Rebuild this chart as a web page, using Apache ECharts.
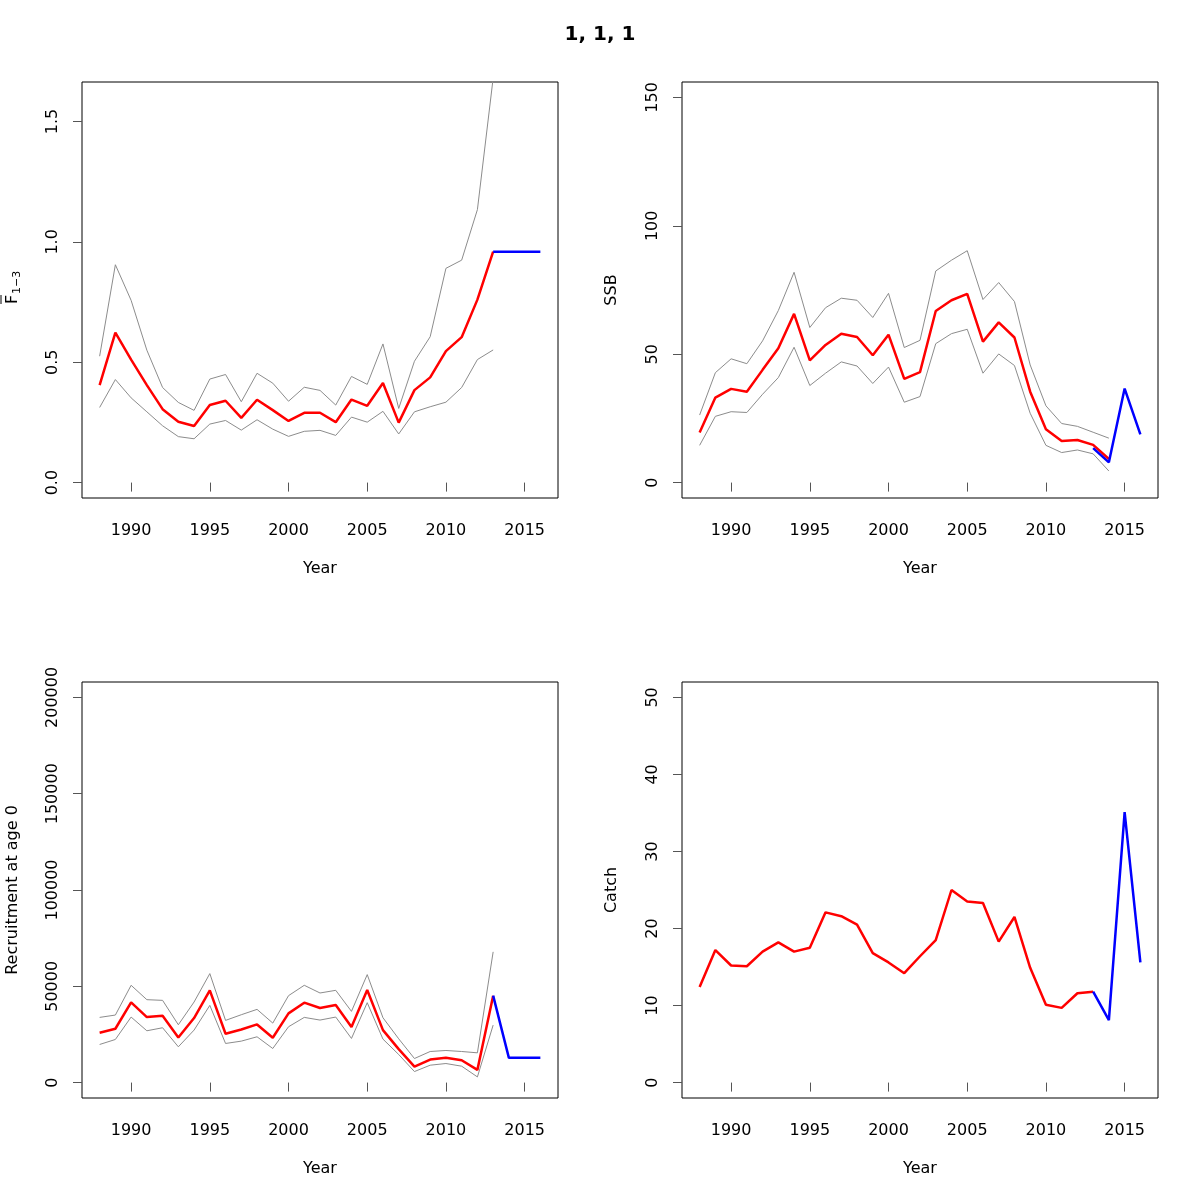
<!DOCTYPE html>
<html>
<head>
<meta charset="utf-8">
<script src="https://cdn.jsdelivr.net/npm/echarts@6/dist/echarts.min.js"></script>
<style>
  html, body { margin: 0; padding: 0; background: #fff; }
  #chart { width: 1200px; height: 1200px; }
</style>
</head>
<body>
<div id="chart"></div>
<script>
// years of the assessment and of the projection
const years = [1988, 1989, 1990, 1991, 1992, 1993, 1994, 1995, 1996, 1997, 1998, 1999, 2000,
  2001, 2002, 2003, 2004, 2005, 2006, 2007, 2008, 2009, 2010, 2011, 2012, 2013];
const ssbYears = [1988, 1989, 1990, 1991, 1992, 1993, 1994, 1995, 1996, 1997, 1998, 1999, 2000,
  2001, 2002, 2003, 2004, 2005, 2006, 2007, 2008, 2009, 2010, 2011, 2012, 2013, 2014];
const projYears = [2013, 2014, 2015, 2016];
const yearTicks = [1990, 1995, 2000, 2005, 2010, 2015];

// mean F ages 1-3
const fbar = [0.405, 0.623, 0.511, 0.405, 0.305, 0.253, 0.235, 0.322, 0.340, 0.269, 0.344, 0.301, 0.256,
  0.290, 0.290, 0.251, 0.345, 0.319, 0.414, 0.249, 0.384, 0.437, 0.546, 0.604, 0.760, 0.959];
const fbarUp = [0.525, 0.905, 0.757, 0.550, 0.395, 0.333, 0.300, 0.430, 0.449, 0.336, 0.454, 0.413, 0.338,
  0.396, 0.383, 0.322, 0.441, 0.408, 0.576, 0.308, 0.504, 0.606, 0.890, 0.924, 1.134, 1.68];
const fbarLo = [0.312, 0.428, 0.352, 0.294, 0.236, 0.191, 0.182, 0.243, 0.258, 0.218, 0.261, 0.222, 0.192,
  0.213, 0.217, 0.196, 0.272, 0.251, 0.296, 0.202, 0.294, 0.315, 0.334, 0.395, 0.511, 0.551];
const fbarProj = [0.959, 0.959, 0.959, 0.959];

// spawning stock biomass
const ssb = [19.5, 33.1, 36.5, 35.4, 43.9, 52.3, 65.7, 47.6, 53.6, 58.0, 56.7, 49.6, 57.6,
  40.4, 43.0, 66.8, 71.0, 73.5, 54.9, 62.4, 56.5, 35.4, 20.8, 16.2, 16.6, 14.7, 9.2];
const ssbUp = [26.3, 42.8, 48.2, 46.3, 55.2, 67.0, 81.9, 60.4, 68.1, 71.8, 71.0, 64.3, 73.7,
  52.6, 55.4, 82.4, 86.6, 90.3, 71.3, 77.9, 70.5, 45.8, 29.9, 23.0, 21.9, 19.6, 17.3];
const ssbLo = [14.5, 25.8, 27.6, 27.3, 34.4, 40.9, 52.7, 37.8, 42.6, 47.0, 45.4, 38.6, 45.0,
  31.3, 33.5, 54.1, 58.0, 59.7, 42.6, 50.1, 45.6, 27.0, 14.5, 11.7, 12.7, 11.2, 4.5];
const ssbProj = [13.4, 7.9, 36.6, 18.8];

// recruitment at age 0
const rec = [25870, 27950, 41670, 34030, 34720, 23440, 33500, 47900, 25350, 27600, 30200, 23260, 35940,
  41490, 38710, 40280, 28820, 48090, 27260, 17360, 8330, 11980, 12850, 11630, 6600, 45140];
const recUp = [33850, 35070, 50520, 43050, 42700, 30030, 41840, 56590, 32290, 35240, 38020, 30900, 45140,
  50520, 46520, 47910, 36980, 56070, 33680, 22740, 12500, 16150, 16670, 16150, 15450, 67880];
const recLo = [19790, 22390, 34030, 26910, 28470, 18580, 27260, 40100, 20310, 21530, 23780, 17710, 28990,
  33850, 32460, 34030, 22920, 41490, 22570, 14580, 5730, 9030, 9900, 8510, 2950, 29860];
const recProj = [45140, 12850, 12850, 12850];

// catch
const catchObs = [12.4, 17.2, 15.2, 15.1, 17.0, 18.2, 17.0, 17.5, 22.1, 21.6, 20.5, 16.8, 15.6,
  14.2, 16.4, 18.5, 25.0, 23.5, 23.3, 18.3, 21.5, 14.9, 10.1, 9.7, 11.6, 11.8];
const catchProj = [11.8, 8.1, 35.1, 15.6];

const FONT = 'DejaVu Sans';

function pairs(xs, ys) {
  return xs.map(function (x, i) { return [x, ys[i]]; });
}

const panels = [
  { left: 82, top: 82, ymin: -0.064, ymax: 1.664, ticks: [0, 0.5, 1, 1.5], fmt: function (v) { return v.toFixed(1); },
    lines: [[years, fbarUp, 'g'], [years, fbarLo, 'g'], [years, fbar, 'r'], [projYears, fbarProj, 'b']] },
  { left: 682, top: 82, ymin: -6, ymax: 156, ticks: [0, 50, 100, 150], fmt: String,
    lines: [[ssbYears, ssbUp, 'g'], [ssbYears, ssbLo, 'g'], [ssbYears, ssb, 'r'], [projYears, ssbProj, 'b']] },
  { left: 82, top: 682, ymin: -8000, ymax: 208000, ticks: [0, 50000, 100000, 150000, 200000], fmt: String,
    lines: [[years, recUp, 'g'], [years, recLo, 'g'], [years, rec, 'r'], [projYears, recProj, 'b']] },
  { left: 682, top: 682, ymin: -2, ymax: 52, ticks: [0, 10, 20, 30, 40, 50], fmt: String,
    lines: [[years, catchObs, 'r'], [projYears, catchProj, 'b']] }
];

const lineStyles = {
  g: { color: '#8c8c8c', width: 1 },
  r: { color: '#ff0000', width: 2.5 },
  b: { color: '#0000ff', width: 2.5 }
};

let grids = [], xAxes = [], yAxes = [], series = [];
panels.forEach(function (p, i) {
  grids.push({ left: p.left, top: p.top, width: 476, height: 416, show: true,
    borderColor: '#000', borderWidth: 1, backgroundColor: 'transparent' });
  xAxes.push({
    gridIndex: i, type: 'value', min: 1986.88, max: 2017.12,
    axisLine: { show: false }, splitLine: { show: false },
    axisTick: { customValues: yearTicks, length: 9, lineStyle: { color: '#555', width: 1 } },
    axisLabel: { customValues: yearTicks, fontSize: 16, color: '#000', fontFamily: FONT, margin: 25,
      formatter: String }
  });
  yAxes.push({
    gridIndex: i, type: 'value', min: p.ymin, max: p.ymax,
    axisLine: { show: false }, splitLine: { show: false },
    axisTick: { customValues: p.ticks, length: 9, lineStyle: { color: '#555', width: 1 } },
    axisLabel: { customValues: p.ticks, fontSize: 16, color: '#000', fontFamily: FONT, margin: 21,
      rotate: 90, formatter: p.fmt }
  });
  p.lines.forEach(function (l) {
    series.push({
      type: 'line', xAxisIndex: i, yAxisIndex: i, data: pairs(l[0], l[1]),
      showSymbol: false, symbol: 'none', silent: true, clip: true,
      lineStyle: lineStyles[l[2]]
    });
  });
});

function label(x, y, text, rot) {
  return { type: 'text', x: x, y: y, rotation: rot || 0,
    style: { text: text, fontSize: 16, fill: '#000', fontFamily: FONT, align: 'center', verticalAlign: 'middle' } };
}

const graphics = [
  label(320, 569, 'Year'), label(920, 569, 'Year'),
  label(320, 1169, 'Year'), label(920, 1169, 'Year'),
  label(612, 290, 'SSB', Math.PI / 2),
  label(13, 890, 'Recruitment at age 0', Math.PI / 2),
  label(612, 890, 'Catch', Math.PI / 2),
  {
    type: 'group', x: 13, y: 290, rotation: Math.PI / 2,
    children: [
      { type: 'text', x: -14, y: 0,
        style: { text: 'F', fontSize: 16, fill: '#000', fontFamily: FONT, align: 'left', verticalAlign: 'middle' } },
      { type: 'text', x: -4, y: 4,
        style: { text: '1\u22123', fontSize: 11, fill: '#000', fontFamily: FONT, align: 'left', verticalAlign: 'middle' } },
      { type: 'line', shape: { x1: -14, y1: -12, x2: -5, y2: -12 }, style: { stroke: '#000', lineWidth: 1 } }
    ]
  }
];

const chart = echarts.init(document.getElementById('chart'));
chart.setOption({
  animation: false,
  backgroundColor: '#fff',
  title: { text: '1, 1, 1', left: 'center', top: 25, padding: 0,
    textStyle: { fontSize: 20, fontWeight: 'bold', color: '#000', fontFamily: FONT } },
  grid: grids,
  xAxis: xAxes,
  yAxis: yAxes,
  series: series,
  graphic: graphics
});
</script>
</body>
</html>
